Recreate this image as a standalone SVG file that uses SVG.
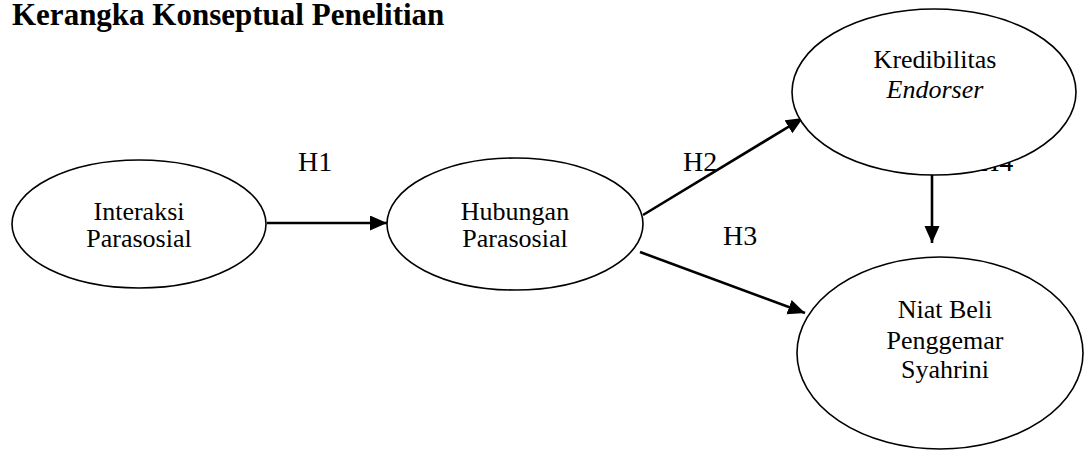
<svg xmlns="http://www.w3.org/2000/svg" width="1084" height="450" viewBox="0 0 1084 450">
<style>
.node{fill:#fff;stroke:#000;stroke-width:1.6}
.t{font-family:"Liberation Serif","Times New Roman",serif;font-size:26px;fill:#000;text-anchor:middle}
.lbl{font-family:"Liberation Serif","Times New Roman",serif;font-size:28px;fill:#000}
.edge{stroke:#000;stroke-width:2.6;fill:none;marker-end:url(#ah)}
</style>
<defs>
<marker id="ah" markerUnits="userSpaceOnUse" markerWidth="18" markerHeight="16" refX="17" refY="7.5" orient="auto">
<path d="M0,0 L17,7.5 L0,15 z" fill="#000"/>
</marker>
</defs>
<rect width="1084" height="450" fill="#fff"/>
<text x="12" y="25" font-family="'Liberation Serif','Times New Roman',serif" font-size="31" font-weight="bold">Kerangka Konseptual Penelitian</text>
<g id="labels">
<text class="lbl" x="298" y="171">H1</text>
<text class="lbl" x="683" y="171">H2</text>
<text class="lbl" x="723" y="245">H3</text>
<text class="lbl" x="979" y="171">H4</text>
</g>
<g id="connectors">
<line class="edge" x1="267" y1="223" x2="387" y2="223"/>
<line class="edge" x1="643" y1="215" x2="803" y2="118"/>
<line class="edge" x1="640" y1="252" x2="805" y2="313"/>
<line class="edge" x1="932" y1="175" x2="932" y2="243"/>
</g>
<g id="interaksi">
<ellipse class="node" cx="139" cy="224" rx="127" ry="64"/>
<text class="t" x="139" y="220">Interaksi</text>
<text class="t" x="139" y="247">Parasosial</text>
</g>
<g id="hubungan">
<ellipse class="node" cx="515" cy="224" rx="128" ry="66"/>
<text class="t" x="515" y="220">Hubungan</text>
<text class="t" x="515" y="247">Parasosial</text>
</g>
<g id="kredibilitas">
<ellipse class="node" cx="934" cy="92" rx="142" ry="83"/>
<text class="t" x="935" y="68">Kredibilitas</text>
<text class="t" x="935" y="98" font-style="italic">Endorser</text>
</g>
<g id="niat">
<ellipse class="node" cx="940" cy="353" rx="143" ry="96"/>
<text class="t" x="945" y="318">Niat Beli</text>
<text class="t" x="945" y="349">Penggemar</text>
<text class="t" x="945" y="378">Syahrini</text>
</g>
</svg>
